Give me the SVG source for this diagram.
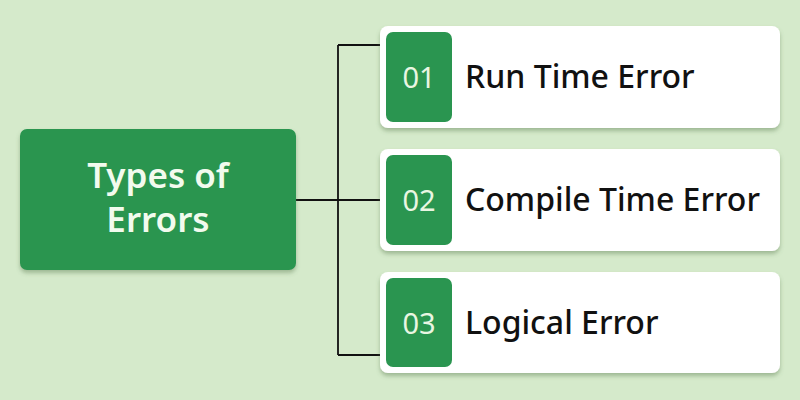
<svg xmlns="http://www.w3.org/2000/svg" width="800" height="400" viewBox="0 0 800 400">
  <defs>
    <filter id="sh" x="-10%" y="-20%" width="120%" height="150%">
      <feDropShadow dx="0" dy="3" stdDeviation="2" flood-color="#5a7a50" flood-opacity="0.45"/>
    </filter>
    <style>
      .card { fill: #ffffff; filter: url(#sh); }
      .badge { fill: #2a9550; }
      .num { font-family: "Noto Sans", "Open Sans", sans-serif; font-size: 29px; fill: #e9f6e2; text-anchor: middle; }
      .label { font-family: "Noto Sans", "Open Sans", sans-serif; font-size: 32px; fill: #111111; font-weight: 500; }
      .title { font-family: "Noto Sans", "Open Sans", sans-serif; font-size: 35px; fill: #f2fbee; font-weight: 600; text-anchor: middle; }
      .conn { fill: none; stroke: #111111; stroke-width: 1.8; }
    </style>
  </defs>
  <rect x="0" y="0" width="800" height="400" fill="#d5eacb"/>

  <g id="connectors">
    <path class="conn" d="M296 200 H338 M338 45 V355 M338 45 H382 M338 200 H382 M338 355 H382"/>
  </g>

  <g id="root">
    <rect x="20" y="129" width="276" height="141" rx="7" fill="#2a9550" filter="url(#sh)"/>
    <text class="title" x="158" y="188">Types of</text>
    <text class="title" x="158" y="232">Errors</text>
  </g>

  <g id="item1">
    <rect class="card" x="380" y="26" width="400" height="102" rx="8"/>
    <rect class="badge" x="386" y="32" width="66" height="90" rx="7"/>
    <text class="num" x="419" y="88">01</text>
    <text class="label" x="465" y="88">Run Time Error</text>
  </g>

  <g id="item2">
    <rect class="card" x="380" y="149" width="400" height="102" rx="8"/>
    <rect class="badge" x="386" y="155" width="66" height="90" rx="7"/>
    <text class="num" x="419" y="211">02</text>
    <text class="label" x="465" y="211">Compile Time Error</text>
  </g>

  <g id="item3">
    <rect class="card" x="380" y="272" width="400" height="101" rx="8"/>
    <rect class="badge" x="386" y="278" width="66" height="89" rx="7"/>
    <text class="num" x="419" y="334">03</text>
    <text class="label" x="465" y="334">Logical Error</text>
  </g>
</svg>
